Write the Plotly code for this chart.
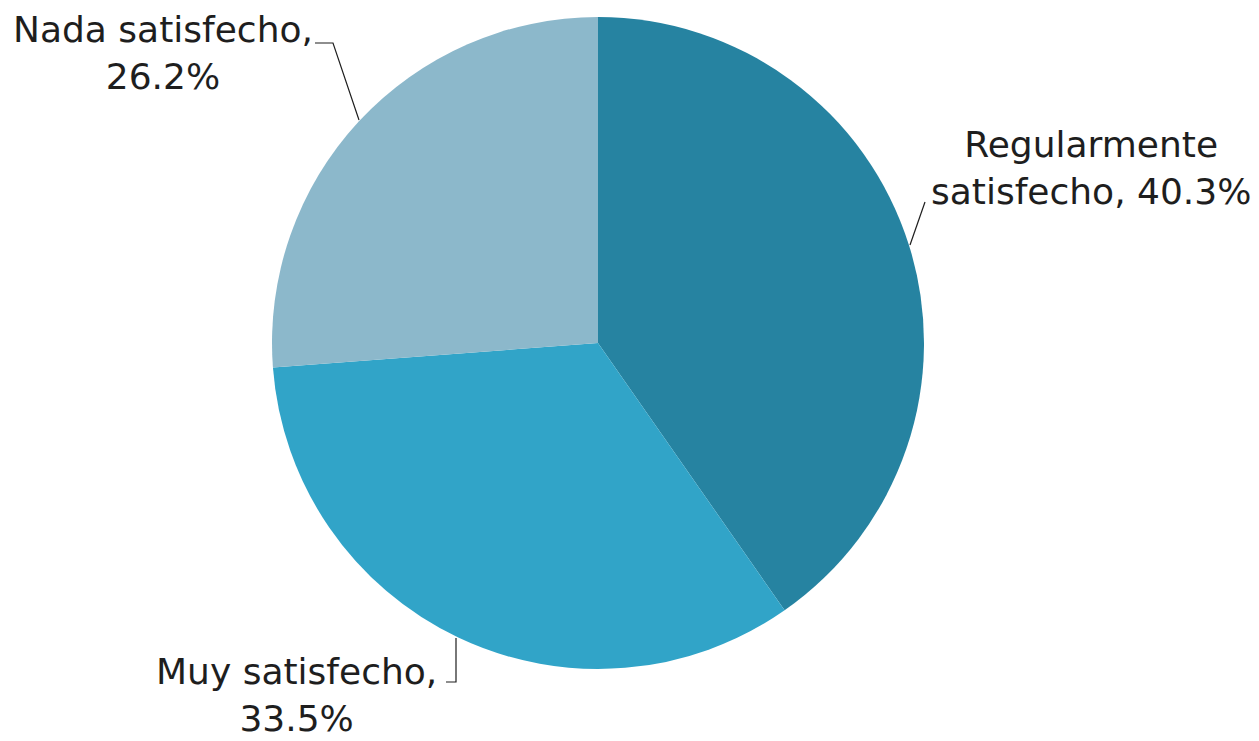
import plotly.graph_objects as go

labels = ["Regularmente satisfecho", "Muy satisfecho", "Nada satisfecho"]
values = [40.3, 33.5, 26.2]
colors = ["#2683a1", "#31a4c8", "#8cb8cb"]
label_texts = ["Regularmente<br>satisfecho, 40.3%", "Muy satisfecho,<br>33.5%", "Nada satisfecho,<br>26.2%"]

W, H = 1259, 741
OFF = 8  # page body margin

def px(x, y):
    return (x - OFF) / W, 1 - (y - OFF) / H

# pie (screen pixels): center (598,343), radius 326
cx, cy, r = 598, 343, 326
x0, y1 = px(cx - r, cy - r)
x1, y0 = px(cx + r, cy + r)

fig = go.Figure(go.Pie(
    labels=labels, values=values, sort=False, direction="clockwise", rotation=0,
    marker=dict(colors=colors, line=dict(width=0)),
    textinfo="none", hoverinfo="label+percent", showlegend=False,
    domain=dict(x=[x0, x1], y=[y0, y1]),
))

label_pos = [(1091, 168), (296, 695), (163, 53)]
leaders = [
    [(925, 202), (910, 245)],
    [(446, 682), (456, 682), (456, 638)],
    [(315, 43), (333, 43), (359, 120)],
]

for txt, (lx, ly) in zip(label_texts, label_pos):
    ax_, ay_ = px(lx, ly)
    fig.add_annotation(x=ax_, y=ay_, xref="paper", yref="paper", text=txt,
                       showarrow=False, xanchor="center", yanchor="middle",
                       font=dict(family="DejaVu Sans, Verdana, sans-serif", size=36, color="#1e1e1e"))

for pts in leaders:
    path = ""
    for i, (x, y) in enumerate(pts):
        u, v = px(x, y)
        path += ("M" if i == 0 else " L") + f" {u} {v}"
    fig.add_shape(type="path", path=path, xref="paper", yref="paper",
                  line=dict(color="#1e1e1e", width=1.2))

fig.update_layout(
    width=W, height=H,
    margin=dict(l=0, r=0, t=0, b=0),
    paper_bgcolor="white", plot_bgcolor="white",
)

fig.write_html("out.html")
